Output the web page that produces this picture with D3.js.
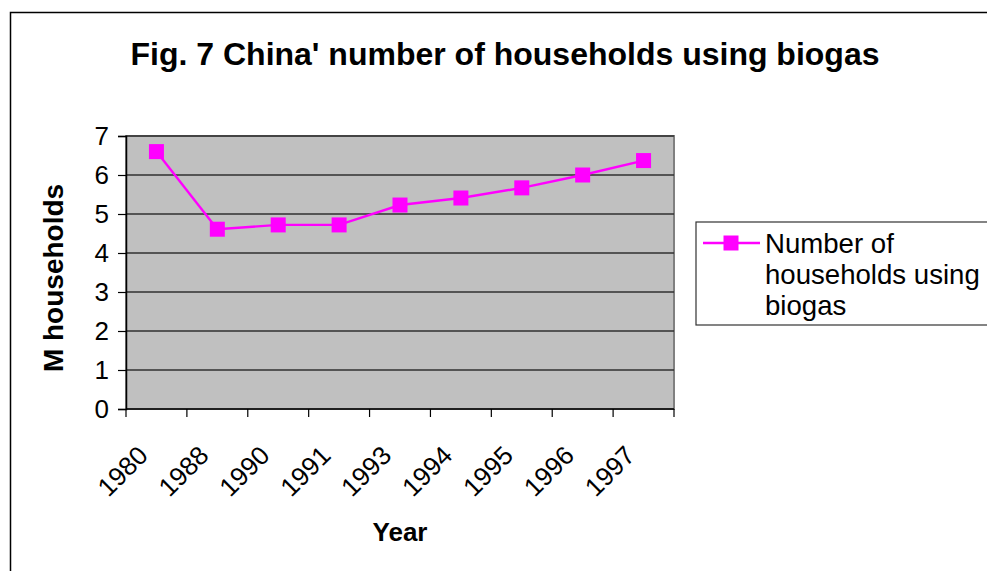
<!DOCTYPE html>
<html>
<head>
<meta charset="utf-8">
<script src="https://cdn.jsdelivr.net/npm/d3@7"></script>
<style>
  html, body { margin: 0; padding: 0; background: #fff; }
  svg { display: block; font-family: Arial, "Liberation Sans", sans-serif; }
</style>
</head>
<body>
<svg id="chart" width="987" height="571"></svg>
<script>
// Households using biogas in China (millions)
const years = ["1980", "1988", "1990", "1991", "1993", "1994", "1995", "1996", "1997"];
const households = [6.6, 4.61, 4.72, 4.72, 5.23, 5.41, 5.67, 6.0, 6.37];
const yTicks = [0, 1, 2, 3, 4, 5, 6, 7];
const seriesName = ["Number of", "households using", "biogas"];

const svg = d3.select("#chart");
const plot = { left: 126, right: 674, top: 136, bottom: 409 };

// outer chart frame
svg.append("rect")
  .attr("x", 10.5).attr("y", 12.5)
  .attr("width", 1000).attr("height", 600)
  .attr("fill", "#fff").attr("stroke", "#000").attr("stroke-width", 1.5);

const x = d3.scaleBand().domain(years).range([plot.left, plot.right]).padding(0);
const y = d3.scaleLinear().domain([0, 7]).range([plot.bottom, plot.top]);

// plot area
svg.append("rect")
  .attr("x", plot.left).attr("y", plot.top)
  .attr("width", plot.right - plot.left).attr("height", plot.bottom - plot.top)
  .attr("fill", "#c0c0c0").attr("stroke", "#808080").attr("stroke-width", 2);

// gridlines
svg.append("g").selectAll("line")
  .data(yTicks.filter(d => d > 0))
  .join("line")
  .attr("x1", plot.left).attr("x2", plot.right)
  .attr("y1", d => y(d)).attr("y2", d => y(d))
  .attr("stroke", "#303030").attr("stroke-width", 1.3);

// y axis
const yAxis = svg.append("g")
  .attr("transform", `translate(${plot.left},0)`)
  .call(d3.axisLeft(y).tickValues(yTicks).tickSize(8).tickPadding(9).tickFormat(d3.format("d")));
yAxis.select(".domain").attr("stroke", "#000").attr("stroke-width", 1.5);
yAxis.selectAll(".tick line").attr("stroke", "#000").attr("stroke-width", 1.2);
yAxis.selectAll(".tick text")
  .attr("font-size", 26).attr("fill", "#000")
  .attr("font-family", "Arial, 'Liberation Sans', sans-serif");

// x axis: ticks at category boundaries
const xAxisG = svg.append("g").attr("transform", `translate(0,${plot.bottom})`);
const bounds = years.map(d => x(d)).concat([plot.right]);
xAxisG.append("line")
  .attr("x1", plot.left).attr("x2", plot.right)
  .attr("y1", 0).attr("y2", 0)
  .attr("stroke", "#000").attr("stroke-width", 1.5);
xAxisG.selectAll("line.tk").data(bounds).join("line")
  .attr("class", "tk")
  .attr("x1", d => d).attr("x2", d => d)
  .attr("y1", 0).attr("y2", 8)
  .attr("stroke", "#000").attr("stroke-width", 1.2);
xAxisG.selectAll("text").data(years).join("text")
  .attr("transform", d => `translate(${x(d) + x.bandwidth() / 2 - 7},${48}) rotate(-45)`)
  .attr("text-anchor", "end")
  .attr("font-size", 26).attr("fill", "#000")
  .text(d => d);

// series line
const pts = years.map((yr, i) => [x(yr) + x.bandwidth() / 2, y(households[i])]);
svg.append("path")
  .attr("d", d3.line()(pts))
  .attr("fill", "none").attr("stroke", "#ff00ff").attr("stroke-width", 2.4);

const mk = 15;
svg.append("g").selectAll("rect")
  .data(pts).join("rect")
  .attr("x", d => d[0] - mk / 2).attr("y", d => d[1] - mk / 2)
  .attr("width", mk).attr("height", mk)
  .attr("fill", "#ff00ff");

// title
svg.append("text")
  .attr("x", 505).attr("y", 65)
  .attr("text-anchor", "middle")
  .attr("font-size", 32).attr("font-weight", "bold")
  .text("Fig. 7 China' number of households using biogas");

// axis titles
svg.append("text")
  .attr("transform", `translate(63,278) rotate(-90)`)
  .attr("text-anchor", "middle")
  .attr("font-size", 28).attr("font-weight", "bold")
  .text("M households");

svg.append("text")
  .attr("x", 400).attr("y", 541)
  .attr("text-anchor", "middle")
  .attr("font-size", 26).attr("font-weight", "bold")
  .text("Year");

// legend
const lg = svg.append("g");
lg.append("rect")
  .attr("x", 696).attr("y", 222)
  .attr("width", 320).attr("height", 103)
  .attr("fill", "#fff").attr("stroke", "#333").attr("stroke-width", 1.2);
lg.append("line")
  .attr("x1", 703).attr("x2", 760).attr("y1", 243).attr("y2", 243)
  .attr("stroke", "#ff00ff").attr("stroke-width", 2.4);
lg.append("rect")
  .attr("x", 731 - mk / 2).attr("y", 243 - mk / 2)
  .attr("width", mk).attr("height", mk).attr("fill", "#ff00ff");
lg.selectAll("text.lbl").data(seriesName).join("text")
  .attr("class", "lbl")
  .attr("x", 765).attr("y", (d, i) => 253 + i * 31)
  .attr("font-size", 27.6).attr("fill", "#000")
  .text(d => d);
</script>
</body>
</html>
